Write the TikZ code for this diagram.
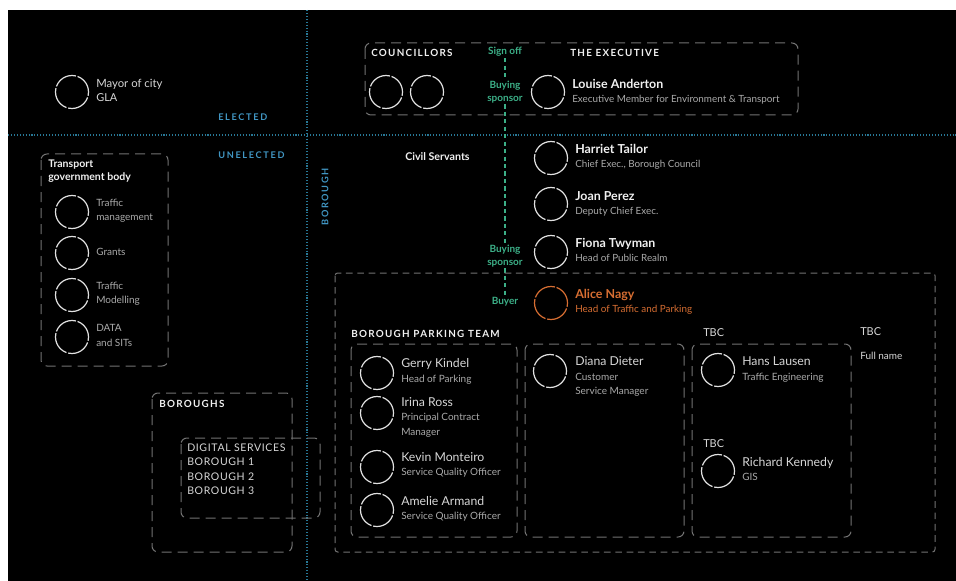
\documentclass[tikz,border=0pt]{standalone}
\usepackage{fontspec}
\setmainfont{Lato}
\definecolor{lineblue}{RGB}{40,120,150}
\definecolor{labblue}{RGB}{65,150,195}
\definecolor{grn}{RGB}{60,175,135}
\definecolor{org}{RGB}{215,110,50}
\definecolor{boxg}{RGB}{115,115,115}
\definecolor{circw}{RGB}{225,225,225}
\definecolor{txtw}{RGB}{240,240,240}
\definecolor{txtl}{RGB}{215,215,215}
\definecolor{txtg}{RGB}{170,170,170}
\begin{document}
\begin{tikzpicture}[x=0.75pt,y=-0.75pt,
  pc/.style={circle, draw=circw, line width=0.9pt, minimum size=24.75pt, inner sep=0pt, dash pattern=on 18.15pt off 1.3pt, dash phase=3pt},
  txt/.style={anchor=west, inner sep=0pt},
  nm/.style={txt, text=txtw, font=\fontsize{9.3}{11}\selectfont\bfseries, text height=6.7pt, text depth=1.9pt},
  rl/.style={txt, text=txtg, font=\fontsize{7.4}{9}\selectfont, text height=5.4pt, text depth=1.5pt},
  tm/.style={txt, text=txtl, font=\fontsize{9.2}{11}\selectfont, text height=6.6pt, text depth=1.9pt},
  tr/.style={txt, text=txtg, font=\fontsize{7.5}{9}\selectfont, text height=5.4pt, text depth=1.5pt},
  sm/.style={txt, text=txtl, font=\fontsize{8.2}{10}\selectfont, text height=5.9pt, text depth=1.6pt},
  capt/.style={txt, text=txtw, font=\fontsize{7.4}{9}\selectfont\bfseries\addfontfeature{LetterSpace=13}, text height=5.4pt, text depth=0pt},
  bl/.style={inner sep=0pt, text=labblue, font=\fontsize{6.9}{8}\selectfont\bfseries\addfontfeature{LetterSpace=18}, text height=5pt, text depth=0pt},
  gl/.style={inner sep=1pt, text=grn, font=\fontsize{7.5}{9.2}\selectfont\bfseries, align=center},
  gline/.style={draw=grn, line width=1.5pt, dash pattern=on 3.2pt off 2.4pt},
  dotl/.style={draw=lineblue, line width=0.8pt, dash pattern=on 0.8pt off 1.4pt},
  dbox/.style={draw=boxg, line width=0.75pt, dash pattern=on 7.5pt off 4.5pt, rounded corners=4.5pt},
  sbox/.style={draw=boxg, line width=0.75pt, dash pattern=on 5pt off 3.5pt, rounded corners=2pt},
  dig/.style={txt, text=txtl, font=\fontsize{7.9}{9}\selectfont\addfontfeature{LetterSpace=6}, text height=5.7pt, text depth=0pt}
]
\useasboundingbox (0,0) rectangle (956,581);
\fill[white] (0,0) rectangle (956,581);
\fill[black] (8,10) rectangle (956,581);

% division lines
\draw[dotl] (8,135) -- (956,135);
\draw[dotl] (307,10) -- (307,581);
\node[bl, anchor=west] (elected) at (218,117) {ELECTED};
\node[bl, anchor=west] (unelected) at (218,155) {UNELECTED};
\node[bl, rotate=90] (borough) at (325,197) {BOROUGH};

% mayor
\node[pc] (mayor) at (72,92) {};
\node[txt, text=txtl, font=\fontsize{8.5}{10}\selectfont, text height=6.2pt, text depth=1.8pt] (mayorN) at (96,85) {Mayor of city};
\node[sm] (mayorR) at (96,99) {GLA};

% top box
\draw[dbox] (365,43) rectangle (798,115);
\node[capt] (councillors) at (371,53) {COUNCILLORS};
\node[capt] (executive) at (570,53) {THE EXECUTIVE};
\node[pc] (coun1) at (386,92) {};
\node[pc] (coun2) at (427,92) {};
\node[pc] (louise) at (548,92) {};
\node[nm] (louiseN) at (572,85) {Louise Anderton};
\node[rl] (louiseR) at (572,100) {Executive Member for Environment \& Transport};

% green chain
\node[gl] (signoff) at (505,52) {Sign off};
\node[gl] (buy1) at (505,92) {Buying\\sponsor};
\node[gl] (buy2) at (505,256) {Buying\\sponsor};
\node[gl] (buyer) at (505,302) {Buyer};
\draw[gline] (signoff) -- (buy1);
\draw[gline] (buy1) -- (buy2);
\draw[gline] (buy2) -- (buyer);

% civil servants
\node[txt, text=txtw, font=\fontsize{8}{9}\selectfont\bfseries] (civil) at (405,157) {Civil Servants};
\node[pc] (harriet) at (551,158) {};
\node[nm] (harrietN) at (575,150) {Harriet Tailor};
\node[rl] (harrietR) at (575,165) {Chief Exec., Borough Council};
\node[pc] (joan) at (551,204) {};
\node[nm] (joanN) at (575,197) {Joan Perez};
\node[rl] (joanR) at (575,212) {Deputy Chief Exec.};
\node[pc] (fiona) at (551,252) {};
\node[nm] (fionaN) at (575,244) {Fiona Twyman};
\node[rl] (fionaR) at (575,259) {Head of Public Realm};
\node[pc, draw=org] (alice) at (551,303) {};
\node[nm, text=org] (aliceN) at (575,295) {Alice Nagy};
\node[rl, text=org] (aliceR) at (575,310) {Head of Traffic and Parking};

% transport government body
\draw[dbox] (41,154) rectangle (168,366);
\node[txt, text=txtw, font=\fontsize{7.9}{9}\selectfont\bfseries] (tgb1) at (48,165) {Transport};
\node[txt, text=txtw, font=\fontsize{7.9}{9}\selectfont\bfseries] (tgb2) at (48,178) {government body};
\node[pc] (tg1) at (72,212) {};
\node[pc] (tg2) at (72,253) {};
\node[pc] (tg3) at (72,295) {};
\node[pc] (tg4) at (72,337) {};
\node[tr] (tg1a) at (96,204) {Traffic};
\node[tr] (tg1b) at (96,218) {management};
\node[tr] (tg2a) at (96,253) {Grants};
\node[tr] (tg3a) at (96,287) {Traffic};
\node[tr] (tg3b) at (96,301) {Modelling};
\node[tr] (tg4a) at (96,329) {DATA};
\node[tr] (tg4b) at (96,344) {and SITs};

% boroughs
\draw[dbox] (152,393) rectangle (292,552);
\node[capt] (boroughs) at (159,404) {BOROUGHS};
\draw[dbox] (181,438) rectangle (320,518);
\node[dig] (dig0) at (187,448) {DIGITAL SERVICES};
\node[dig] (dig1) at (187,462) {BOROUGH 1};
\node[dig] (dig2) at (187,477) {BOROUGH 2};
\node[dig] (dig3) at (187,491) {BOROUGH 3};

% parking area
\draw[sbox] (335,273) rectangle (935,552);
\node[capt] (bpt) at (351,334) {BOROUGH PARKING TEAM};
\draw[dbox] (351,344) rectangle (517,537);
\draw[dbox] (525,344) rectangle (684,537);
\draw[dbox] (692,344) rectangle (851,537);

\node[pc] (gerry) at (377,373) {};
\node[tm] (gerryN) at (401,364) {Gerry Kindel};
\node[tr] (gerryR) at (401,380) {Head of Parking};
\node[pc] (irina) at (377,413) {};
\node[tm] (irinaN) at (401,403) {Irina Ross};
\node[tr] (irinaR1) at (401,418) {Principal Contract};
\node[tr] (irinaR2) at (401,433) {Manager};
\node[pc] (kevin) at (377,467) {};
\node[tm] (kevinN) at (401,458) {Kevin Monteiro};
\node[tr] (kevinR) at (401,473) {Service Quality Officer};
\node[pc] (amelie) at (377,510) {};
\node[tm] (amelieN) at (401,502) {Amelie Armand};
\node[tr] (amelieR) at (401,517) {Service Quality Officer};

\node[pc] (diana) at (550,371) {};
\node[tm] (dianaN) at (575,362) {Diana Dieter};
\node[tr] (dianaR1) at (575,378) {Customer};
\node[tr] (dianaR2) at (575,392) {Service Manager};

\node[sm] (tbc1) at (703,334) {TBC};
\node[pc] (hans) at (718,370) {};
\node[tm] (hansN) at (742,362) {Hans Lausen};
\node[tr] (hansR) at (742,378) {Traffic Engineering};
\node[sm] (tbc2) at (703,445) {TBC};
\node[pc] (richard) at (718,471) {};
\node[tm] (richardN) at (742,463) {Richard Kennedy};
\node[tr] (richardR) at (742,478) {GIS};

\node[sm] (tbc3) at (860,333) {TBC};
\node[tr, text=txtl] (fullname) at (860,357) {Full name};
\end{tikzpicture}
\end{document}
